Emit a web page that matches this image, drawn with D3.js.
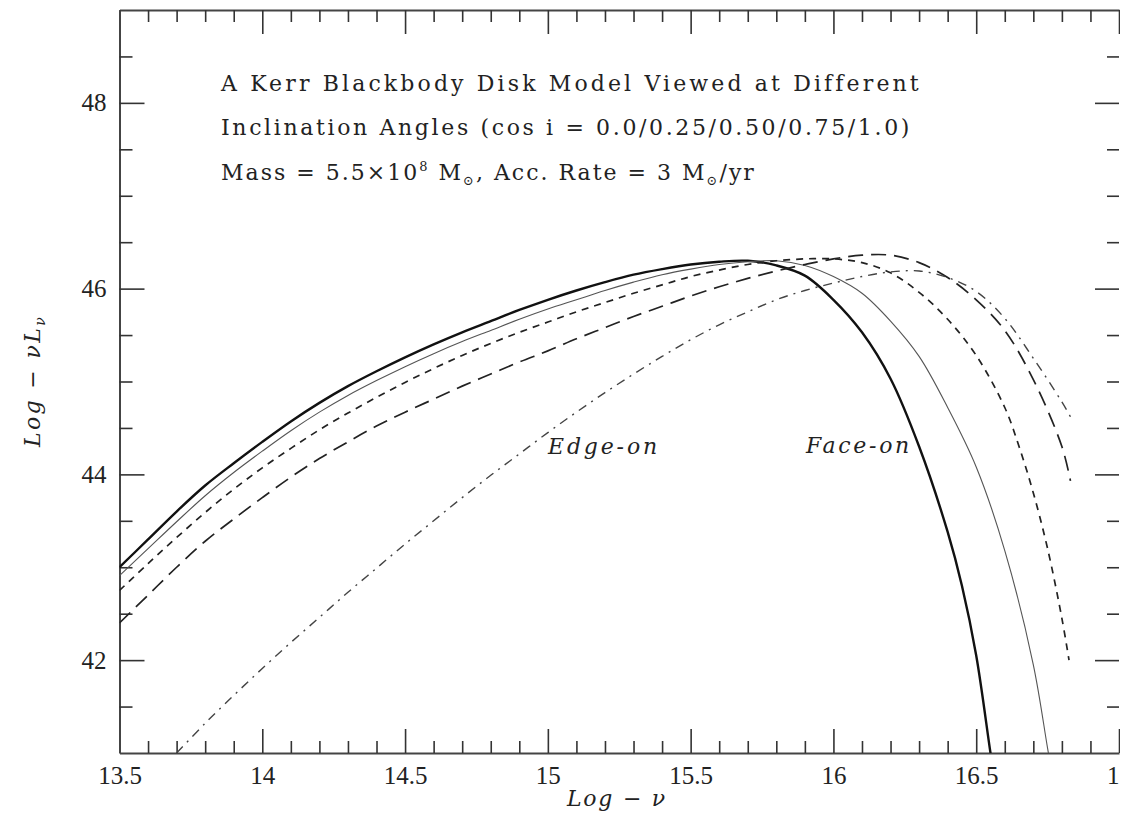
<!DOCTYPE html>
<html><head><meta charset="utf-8">
<script src="https://cdn.jsdelivr.net/npm/d3@7"></script>
<style>
html,body{margin:0;padding:0;background:#fff;}
svg{display:block;}
</style></head><body>
<svg id="chart" width="1131" height="819"></svg>
<script>
// ---------- data ----------
const xTickLabels = ["13.5","14","14.5","15","15.5","16","16.5","17"];
const yTickLabels = ["42","44","46","48"];
const titleLine1 = "A Kerr Blackbody Disk Model Viewed at Different";
const titleLine2 = "Inclination Angles (cos i = 0.0/0.25/0.50/0.75/1.0)";
const edgeLabel = "Edge-on";
const faceLabel = "Face-on";

// cos i = 1.0 (face-on), thick solid
const nu_cos100 = [13.5,13.6,13.7,13.8,13.9,14.0,14.1,14.2,14.3,14.4,14.5,14.6,14.7,14.8,14.9,15.0,15.1,15.2,15.3,15.4,15.5,15.6,15.7,15.8,15.9,16.0,16.1,16.2,16.3,16.4,16.45,16.5,16.55,16.57];
const L_cos100  = [43.00,43.30,43.60,43.88,44.12,44.35,44.57,44.77,44.95,45.11,45.26,45.40,45.53,45.65,45.77,45.88,45.98,46.07,46.15,46.21,46.26,46.29,46.30,46.25,46.14,45.88,45.53,45.03,44.30,43.38,42.80,42.05,41.00,40.60];
// cos i = 0.75, thin solid
const nu_cos075 = [13.5,13.6,13.7,13.8,13.9,14.0,14.1,14.2,14.3,14.4,14.5,14.6,14.7,14.8,14.9,15.0,15.1,15.2,15.3,15.4,15.5,15.6,15.7,15.8,15.9,16.0,16.1,16.2,16.3,16.4,16.5,16.6,16.7,16.75,16.77];
const L_cos075  = [42.91,43.20,43.49,43.77,44.02,44.25,44.47,44.67,44.85,45.01,45.16,45.30,45.43,45.55,45.67,45.78,45.88,45.98,46.07,46.15,46.21,46.26,46.29,46.30,46.25,46.13,45.95,45.65,45.27,44.72,44.08,43.18,41.95,41.05,40.70];
// cos i = 0.50, short dashes
const nu_cos050 = [13.5,13.6,13.7,13.8,13.9,14.0,14.1,14.2,14.3,14.4,14.5,14.6,14.7,14.8,14.9,15.0,15.1,15.2,15.3,15.4,15.5,15.6,15.7,15.8,15.9,16.0,16.1,16.2,16.3,16.4,16.5,16.6,16.65,16.7,16.75,16.8,16.825];
const L_cos050  = [42.75,43.04,43.32,43.59,43.84,44.07,44.28,44.48,44.66,44.83,44.99,45.14,45.28,45.41,45.53,45.64,45.75,45.85,45.95,46.04,46.13,46.20,46.26,46.30,46.32,46.32,46.28,46.17,45.96,45.67,45.28,44.72,44.30,43.80,43.20,42.45,42.00];
// cos i = 0.25, long dashes
const nu_cos025 = [13.5,13.6,13.7,13.8,13.9,14.0,14.1,14.2,14.3,14.4,14.5,14.6,14.7,14.8,14.9,15.0,15.1,15.2,15.3,15.4,15.5,15.6,15.7,15.8,15.9,16.0,16.1,16.2,16.3,16.4,16.5,16.6,16.7,16.8,16.83];
const L_cos025  = [42.40,42.70,43.00,43.28,43.52,43.75,43.97,44.17,44.35,44.52,44.67,44.81,44.95,45.08,45.21,45.33,45.46,45.58,45.70,45.81,45.92,46.02,46.11,46.19,46.26,46.32,46.36,46.36,46.28,46.12,45.88,45.55,45.02,44.30,43.93];
// cos i = 0.0 (edge-on), dash-dot
const nu_cos000 = [13.7,13.8,13.9,14.0,14.1,14.2,14.3,14.4,14.5,14.6,14.7,14.8,14.9,15.0,15.1,15.2,15.3,15.4,15.5,15.6,15.7,15.8,15.9,16.0,16.1,16.2,16.3,16.4,16.5,16.6,16.7,16.8,16.83];
const L_cos000  = [41.00,41.32,41.62,41.91,42.19,42.46,42.73,42.99,43.25,43.50,43.75,43.99,44.22,44.45,44.67,44.88,45.08,45.27,45.45,45.61,45.75,45.88,45.98,46.06,46.13,46.18,46.19,46.12,45.97,45.68,45.25,44.78,44.62];

// ---------- layout ----------
const svg = d3.select("#chart");
const X0 = 119.5, X1 = 1119, YB = 753, YT = 10;
const x = d3.scaleLinear().domain([13.5, 17]).range([X0, X1]);
const y = d3.scaleLinear().domain([41, 49]).range([YB, YT]);
const ink = "#222";
const serif = "'DejaVu Serif', serif";
const tickFont = "'Liberation Serif', serif";

const xMajor = xTickLabels.map(Number);
const xMinor = d3.range(136, 171).filter(v => v % 5 !== 0).map(v => v / 10);
const yMajor = yTickLabels.map(Number);
const yMinor = d3.range(83, 98).filter(v => v % 4 !== 0).map(v => v / 2);

function styleAxis(g, showDomain) {
  g.selectAll(".domain").attr("stroke", showDomain ? "#444" : "none").attr("stroke-width", 2);
  g.selectAll(".tick line").attr("stroke", "#333").attr("stroke-width", 1.6);
  g.selectAll(".tick text").attr("font-family", tickFont).attr("font-size", 25).attr("fill", ink);
}

// bottom
svg.append("g").attr("transform", `translate(0,${YB})`)
  .call(d3.axisBottom(x).tickValues(xMajor).tickSize(-24).tickSizeOuter(0).tickPadding(13)
    .tickFormat((d, i) => xTickLabels[i]))
  .call(g => styleAxis(g, true));
svg.append("g").attr("transform", `translate(0,${YB})`)
  .call(d3.axisBottom(x).tickValues(xMinor).tickSize(-12).tickFormat(""))
  .call(g => styleAxis(g, false));
// top
svg.append("g").attr("transform", `translate(0,${YT})`)
  .call(d3.axisTop(x).tickValues(xMajor).tickSize(-24).tickSizeOuter(0).tickFormat(""))
  .call(g => styleAxis(g, true));
svg.append("g").attr("transform", `translate(0,${YT})`)
  .call(d3.axisTop(x).tickValues(xMinor).tickSize(-12).tickFormat(""))
  .call(g => styleAxis(g, false));
// left
svg.append("g").attr("transform", `translate(${X0},0)`)
  .call(d3.axisLeft(y).tickValues(yMajor).tickSize(-25).tickSizeOuter(0).tickPadding(13)
    .tickFormat((d, i) => yTickLabels[i]))
  .call(g => styleAxis(g, true));
svg.append("g").attr("transform", `translate(${X0},0)`)
  .call(d3.axisLeft(y).tickValues(yMinor).tickSize(-13).tickFormat(""))
  .call(g => styleAxis(g, false));
// right
svg.append("g").attr("transform", `translate(${X1},0)`)
  .call(d3.axisRight(y).tickValues(yMajor).tickSize(-24).tickSizeOuter(0).tickFormat(""))
  .call(g => styleAxis(g, false));
svg.append("g").attr("transform", `translate(${X1},0)`)
  .call(d3.axisRight(y).tickValues(yMinor).tickSize(-12).tickFormat(""))
  .call(g => styleAxis(g, false));

// ---------- curves ----------
svg.append("clipPath").attr("id", "plotclip")
  .append("rect").attr("x", X0).attr("y", YT).attr("width", X1 - X0).attr("height", YB - YT);

const line = d3.line().curve(d3.curveCatmullRom.alpha(0.5)).x(d => x(d[0])).y(d => y(d[1]));
const series = [
  { nu: nu_cos100, L: L_cos100, w: 2.4, dash: null, col: "#111" },
  { nu: nu_cos075, L: L_cos075, w: 1.1, dash: null, col: "#555" },
  { nu: nu_cos050, L: L_cos050, w: 1.7, dash: "7,6", col: "#222" },
  { nu: nu_cos025, L: L_cos025, w: 1.7, dash: "15,8", col: "#222" },
  { nu: nu_cos000, L: L_cos000, w: 1.4, dash: "9,6,2,6", col: "#444" }
];
const cg = svg.append("g").attr("clip-path", "url(#plotclip)");
series.forEach(s => {
  cg.append("path")
    .datum(d3.zip(s.nu, s.L))
    .attr("d", line)
    .attr("fill", "none")
    .attr("stroke", s.col)
    .attr("stroke-width", s.w)
    .attr("stroke-dasharray", s.dash);
});

// ---------- text ----------
function fit(sel, target) {
  const n = sel.text().length;
  const w = sel.node().getComputedTextLength();
  sel.attr("letter-spacing", ((target - w) / n).toFixed(2));
}

const t1 = svg.append("text").attr("x", 221).attr("y", 91)
  .attr("font-family", serif).attr("font-size", 22).attr("fill", ink).text(titleLine1);
fit(t1, 700);
const t2 = svg.append("text").attr("x", 221).attr("y", 135)
  .attr("font-family", serif).attr("font-size", 22).attr("fill", ink).text(titleLine2);
fit(t2, 691);
const t3 = svg.append("text").attr("x", 221).attr("y", 180)
  .attr("font-family", serif).attr("font-size", 22).attr("fill", ink);
t3.append("tspan").text("Mass = 5.5×10");
t3.append("tspan").attr("dy", -9).attr("font-size", 13).text("8");
t3.append("tspan").attr("dy", 9).text(" M");
t3.append("tspan").attr("dy", 5).attr("font-size", 13).text("⊙");
t3.append("tspan").attr("dy", -5).text(", Acc. Rate = 3 M");
t3.append("tspan").attr("dy", 5).attr("font-size", 13).text("⊙");
t3.append("tspan").attr("dy", -5).text("/yr");
fit(t3, 535);

const e = svg.append("text").attr("x", 548).attr("y", 454)
  .attr("font-family", serif).attr("font-style", "italic").attr("font-size", 22).attr("fill", ink).text(edgeLabel);
fit(e, 112);
const f = svg.append("text").attr("x", 806).attr("y", 453)
  .attr("font-family", serif).attr("font-style", "italic").attr("font-size", 22).attr("fill", ink).text(faceLabel);
fit(f, 106);

// axis titles
const xl = svg.append("text").attr("x", 567).attr("y", 806)
  .attr("font-family", serif).attr("font-style", "italic").attr("font-size", 22).attr("fill", ink).text("Log − ν");
fit(xl, 100);

const yl = svg.append("text").attr("transform", "translate(40,447) rotate(-90)")
  .attr("font-family", serif).attr("font-style", "italic").attr("font-size", 22).attr("fill", ink);
yl.append("tspan").text("Log − νL");
yl.append("tspan").attr("dy", 5).attr("font-size", 14).text("ν");
fit(yl, 132);

// reference image is cropped just right of the frame
svg.append("rect").attr("x", 1120).attr("y", 0).attr("width", 20).attr("height", 819).attr("fill", "#fff");
</script>
</body></html>
